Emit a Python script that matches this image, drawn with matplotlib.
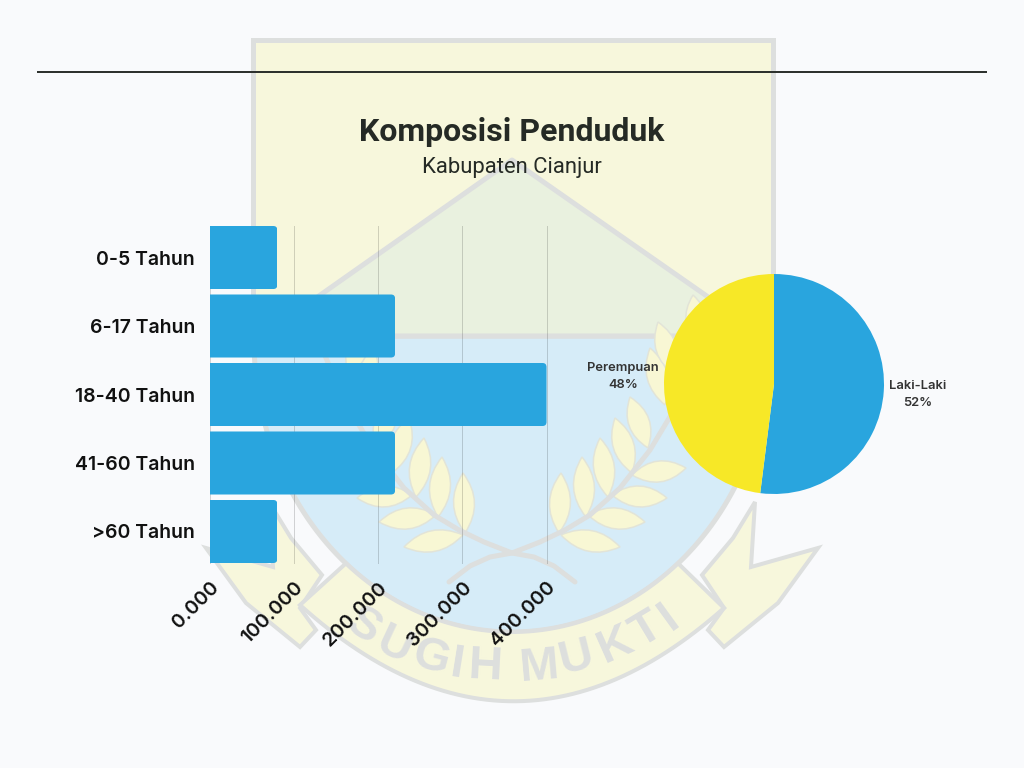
import numpy as np
import matplotlib
matplotlib.use('Agg')
import matplotlib.pyplot as plt
from matplotlib.patches import FancyBboxPatch, PathPatch, Polygon, Rectangle
from matplotlib.path import Path
from matplotlib.transforms import IdentityTransform

# chart values
age_groups = ["0-5 Tahun", "6-17 Tahun", "18-40 Tahun", "41-60 Tahun", ">60 Tahun"]
age_counts = [80000, 220000, 400000, 220000, 80000]
x_ticks = [0, 100000, 200000, 300000, 400000]
x_tick_labels = ["0.000", "100.000", "200.000", "300.000", "400.000"]
gender_labels = ["Laki-Laki\n52%", "Perempuan\n48%"]
gender_shares = [52, 48]

# watermark pieces, all in image pixels
tail_right = [(755, 502), (751, 567), (818, 548), (778, 603), (724, 647), (708, 630), (724, 608), (702, 575), (733, 538)]
leaves_right = [
    ((559, 533), (561, 473)), ((586, 517), (582, 457)), ((608, 497), (600, 438)),
    ((632, 473), (615, 418)), ((648, 448), (630, 397)), ((665, 405), (650, 348)),
    ((675, 375), (658, 322)), ((700, 345), (693, 295)),
    ((561, 535), (620, 547)), ((588, 515), (645, 522)), ((612, 495), (667, 498)),
    ((632, 475), (686, 468)),
]
branch_right = [(449, 582), (470, 566), (490, 557), (512, 553), (540, 542), (565, 530),
                (590, 515), (620, 488), (650, 450), (680, 400), (710, 330)]
motto_letters = ["S", "U", "G", "I", "H", "M", "U", "K", "T", "I"]
motto_x = [363, 394, 431, 457, 486, 539, 576, 616, 647, 669]
motto_y = [627, 646, 658, 665, 667, 667, 658, 645, 630, 617]
motto_rot = [-33, -25, -15, -9, -3, 5, 14, 24, 31, 36]

BG = "#F9FAFC"
YELLOW = "#F7F7DC"
GREEN = "#E9F1DF"
SKY = "#D6ECF8"
EDGE = "#DDDFDE"
BLUE = "#29A5DE"
SUN = "#F7E827"
INK = "#252A25"
PX = 72 / 100.

plt.rcParams["font.family"] = ["Inter", "DejaVu Sans"]

fig = plt.figure(figsize=(10.24, 7.68), dpi=100, facecolor=BG)

bg = fig.add_axes([0, 0, 1, 1], zorder=0)
bg.set_xlim(0, 1024)
bg.set_ylim(768, 0)
bg.axis("off")

# shield
t = np.linspace(0, np.pi, 120)
arc_x = 512 + 258 * np.cos(t)
arc_y = 340 + 292 * np.sin(t)
ribbon_t = np.linspace(0, 1, 60)
low_x = (1 - ribbon_t) ** 2 * 300 + 2 * ribbon_t * (1 - ribbon_t) * 512 + ribbon_t ** 2 * 724
low_y = (1 - ribbon_t) ** 2 * 605 + 2 * ribbon_t * (1 - ribbon_t) * 796 + ribbon_t ** 2 * 608

for pts in (tail_right, [(1024 - x, y) for x, y in tail_right]):
    bg.add_patch(Polygon(pts, closed=True, fc=YELLOW, ec=EDGE, lw=4 * PX, joinstyle="miter"))

bg.add_patch(Rectangle((252.5, 39.5), 520, 297, fc=YELLOW, ec=EDGE, lw=5 * PX))
blue_pts = [(254, 336)] + list(zip(arc_x[::-1], arc_y[::-1])) + [(770, 336)]
bg.add_patch(Polygon(blue_pts, closed=True, fc=SKY, ec=EDGE, lw=5 * PX))
bg.add_patch(Polygon([(262, 336), (512, 160), (764, 336)], closed=True, fc=GREEN, ec=EDGE, lw=5 * PX, joinstyle="round"))

# ribbon under the shield
keep = (arc_y > 560) & (arc_x > 339) & (arc_x < 685)
top_edge = list(zip(arc_x[keep][::-1], arc_y[keep][::-1]))
ribbon = top_edge + [(724, 608)] + list(zip(low_x[::-1], low_y[::-1])) + [(300, 605)]
bg.add_patch(Polygon(ribbon, closed=True, fc=YELLOW, ec=EDGE, lw=4 * PX, joinstyle="miter"))

for lx, ly, letter, rot in zip(motto_x, motto_y, motto_letters, motto_rot):
    bg.text(lx, ly, letter, fontsize=34, family="Liberation Sans", fontweight="bold", color=EDGE,
            rotation=rot, ha="center", va="center", rotation_mode="anchor")


def draw_leaf(base, tip, width):
    bx, by = base
    tx, ty = tip
    mx, my = (bx + tx) / 2., (by + ty) / 2.
    nx, ny = (ty - by), -(tx - bx)
    norm = np.hypot(nx, ny)
    nx, ny = nx / norm * width, ny / norm * width
    verts = [base, (mx + nx, my + ny), tip, (mx - nx, my - ny), base]
    codes = [Path.MOVETO, Path.CURVE3, Path.CURVE3, Path.CURVE3, Path.CURVE3]
    bg.add_patch(PathPatch(Path(verts, codes), fc="#F8F7D4", ec="#E2E4D8", lw=1.5 * PX))


for side in (1, -1):
    pts = branch_right if side == 1 else [(1024 - x, y) for x, y in branch_right]
    for base, tip in leaves_right:
        if side == -1:
            base, tip = (1024 - base[0], base[1]), (1024 - tip[0], tip[1])
        draw_leaf(base, tip, 21)
    bg.plot([p[0] for p in pts], [p[1] for p in pts], color=EDGE, lw=5 * PX, solid_capstyle="round")

bg.plot([38, 986], [72, 72], color="#2E322E", lw=2 * PX)

bg.text(512, 132, "Komposisi Penduduk", family="Roboto", fontweight="bold", fontsize=23,
        color=INK, ha="center", va="center")
bg.text(512, 167, "Kabupaten Cianjur", family="Roboto", fontsize=15.8,
        color=INK, ha="center", va="center")

# bars
ax = fig.add_axes([210 / 1024., 1 - 563 / 768., 336.5 / 1024., 337 / 768.], zorder=1)
ax.patch.set_alpha(0)
y_pos = np.arange(len(age_groups))
bars = ax.barh(y_pos, age_counts, height=0.92, color=BLUE, zorder=3)
ax.set_xlim(0, 400000)
ax.set_ylim(4.46, -0.46)
ax.set_yticks(y_pos, age_groups, fontsize=14, fontweight="semibold", color="#111111")
ax.set_xticks(x_ticks, x_tick_labels, fontsize=14, fontweight="semibold", color="#111111",
              rotation=45, ha="right", rotation_mode="anchor")
ax.tick_params(axis="both", length=0)
ax.tick_params(axis="y", pad=10.7)
ax.tick_params(axis="x", pad=11)
ax.grid(True, axis="x", color="#000000", alpha=0.16, lw=1 * PX, zorder=1)
for line in ax.get_xgridlines():
    line.set_clip_on(False)
for spine in ax.spines.values():
    spine.set_visible(False)

# rounded right hand corners
for bar in bars:
    ext = bar.get_window_extent(fig.canvas.get_renderer())
    corner = FancyBboxPatch((ext.x0 - 8, ext.y0), ext.width + 8, ext.height,
                            boxstyle="round,pad=0,rounding_size=4", transform=IdentityTransform())
    bar.set_clip_path(corner)

# pie
ax_pie = fig.add_axes([664 / 1024., 1 - 494 / 768., 220 / 1024., 220 / 768.], zorder=2)
wedges, texts = ax_pie.pie(gender_shares, labels=gender_labels, colors=[BLUE, SUN],
                           startangle=90, counterclock=False, labeldistance=1.05,
                           textprops=dict(fontsize=9.3, fontweight="semibold", color="#333333"))
for txt in texts:
    txt.set_multialignment("center")
    txt.set_linespacing(1.55)
texts[0].set_y(texts[0].get_position()[1] - 0.03)
ax_pie.set_xlim(-1, 1)
ax_pie.set_ylim(-1, 1)

fig.savefig("out.png", dpi=100, facecolor=BG)
